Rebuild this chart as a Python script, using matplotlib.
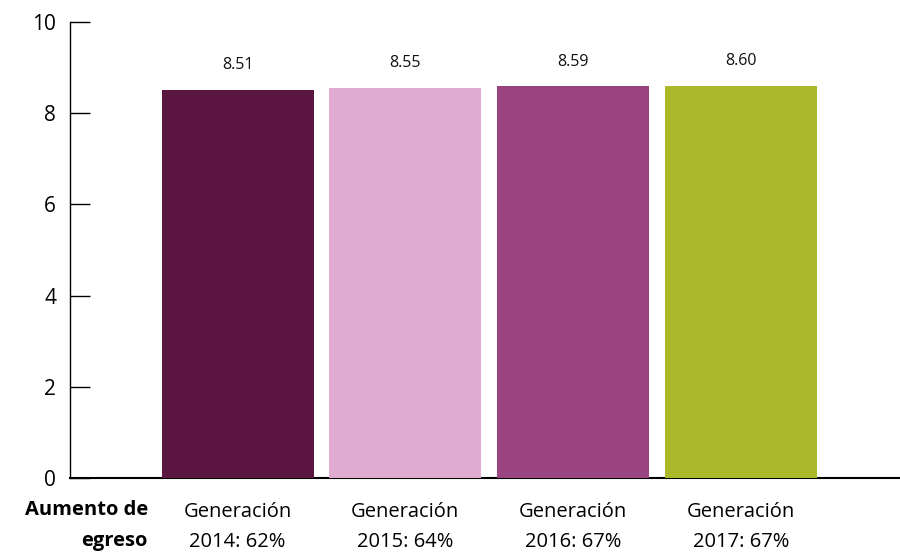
import matplotlib
matplotlib.use('agg')
import matplotlib.pyplot as plt

categories = ["Generación\n2014: 62%", "Generación\n2015: 64%",
              "Generación\n2016: 67%", "Generación\n2017: 67%"]
values = [8.51, 8.55, 8.59, 8.60]
colors = ["#5a1640", "#dfabd0", "#9a4482", "#abb82a"]
yticks = [0, 2, 4, 6, 8, 10]

plt.rcParams['font.family'] = ['Open Sans', 'DejaVu Sans']

fig = plt.figure(figsize=(9, 5.56), dpi=100)
ax = fig.add_axes([70 / 900, 78 / 556, 830 / 900, 456 / 556])

x = range(len(values))
ax.bar(x, values, width=0.906, color=colors, zorder=3)

for i, v in enumerate(values):
    ax.annotate(f"{v:.2f}", (i, v), xytext=(0, 12), textcoords='offset points',
                ha='center', va='bottom', fontsize=11.5, color='#111111')

ax.set_xlim(-1.0, 3.95)
ax.set_ylim(0, 10)
ax.set_yticks(yticks)
ax.set_yticklabels([str(t) for t in yticks], fontsize=15)
ax.set_xticks(list(x))
ax.set_xticklabels(categories, fontsize=14.5, linespacing=1.72)

ax.tick_params(axis='y', direction='in', length=14.5, width=1, pad=10)
ax.tick_params(axis='x', length=0, pad=17)

ax.spines['top'].set_visible(False)
ax.spines['right'].set_visible(False)
ax.spines['left'].set_linewidth(1)
ax.spines['bottom'].set_linewidth(1.5)

fig.text(148 / 900, 1 - 500 / 556, "Aumento de\negreso", ha='right', va='top',
         fontsize=14.5, fontweight='bold', linespacing=1.72)

plt.savefig("out.png", dpi=100)
